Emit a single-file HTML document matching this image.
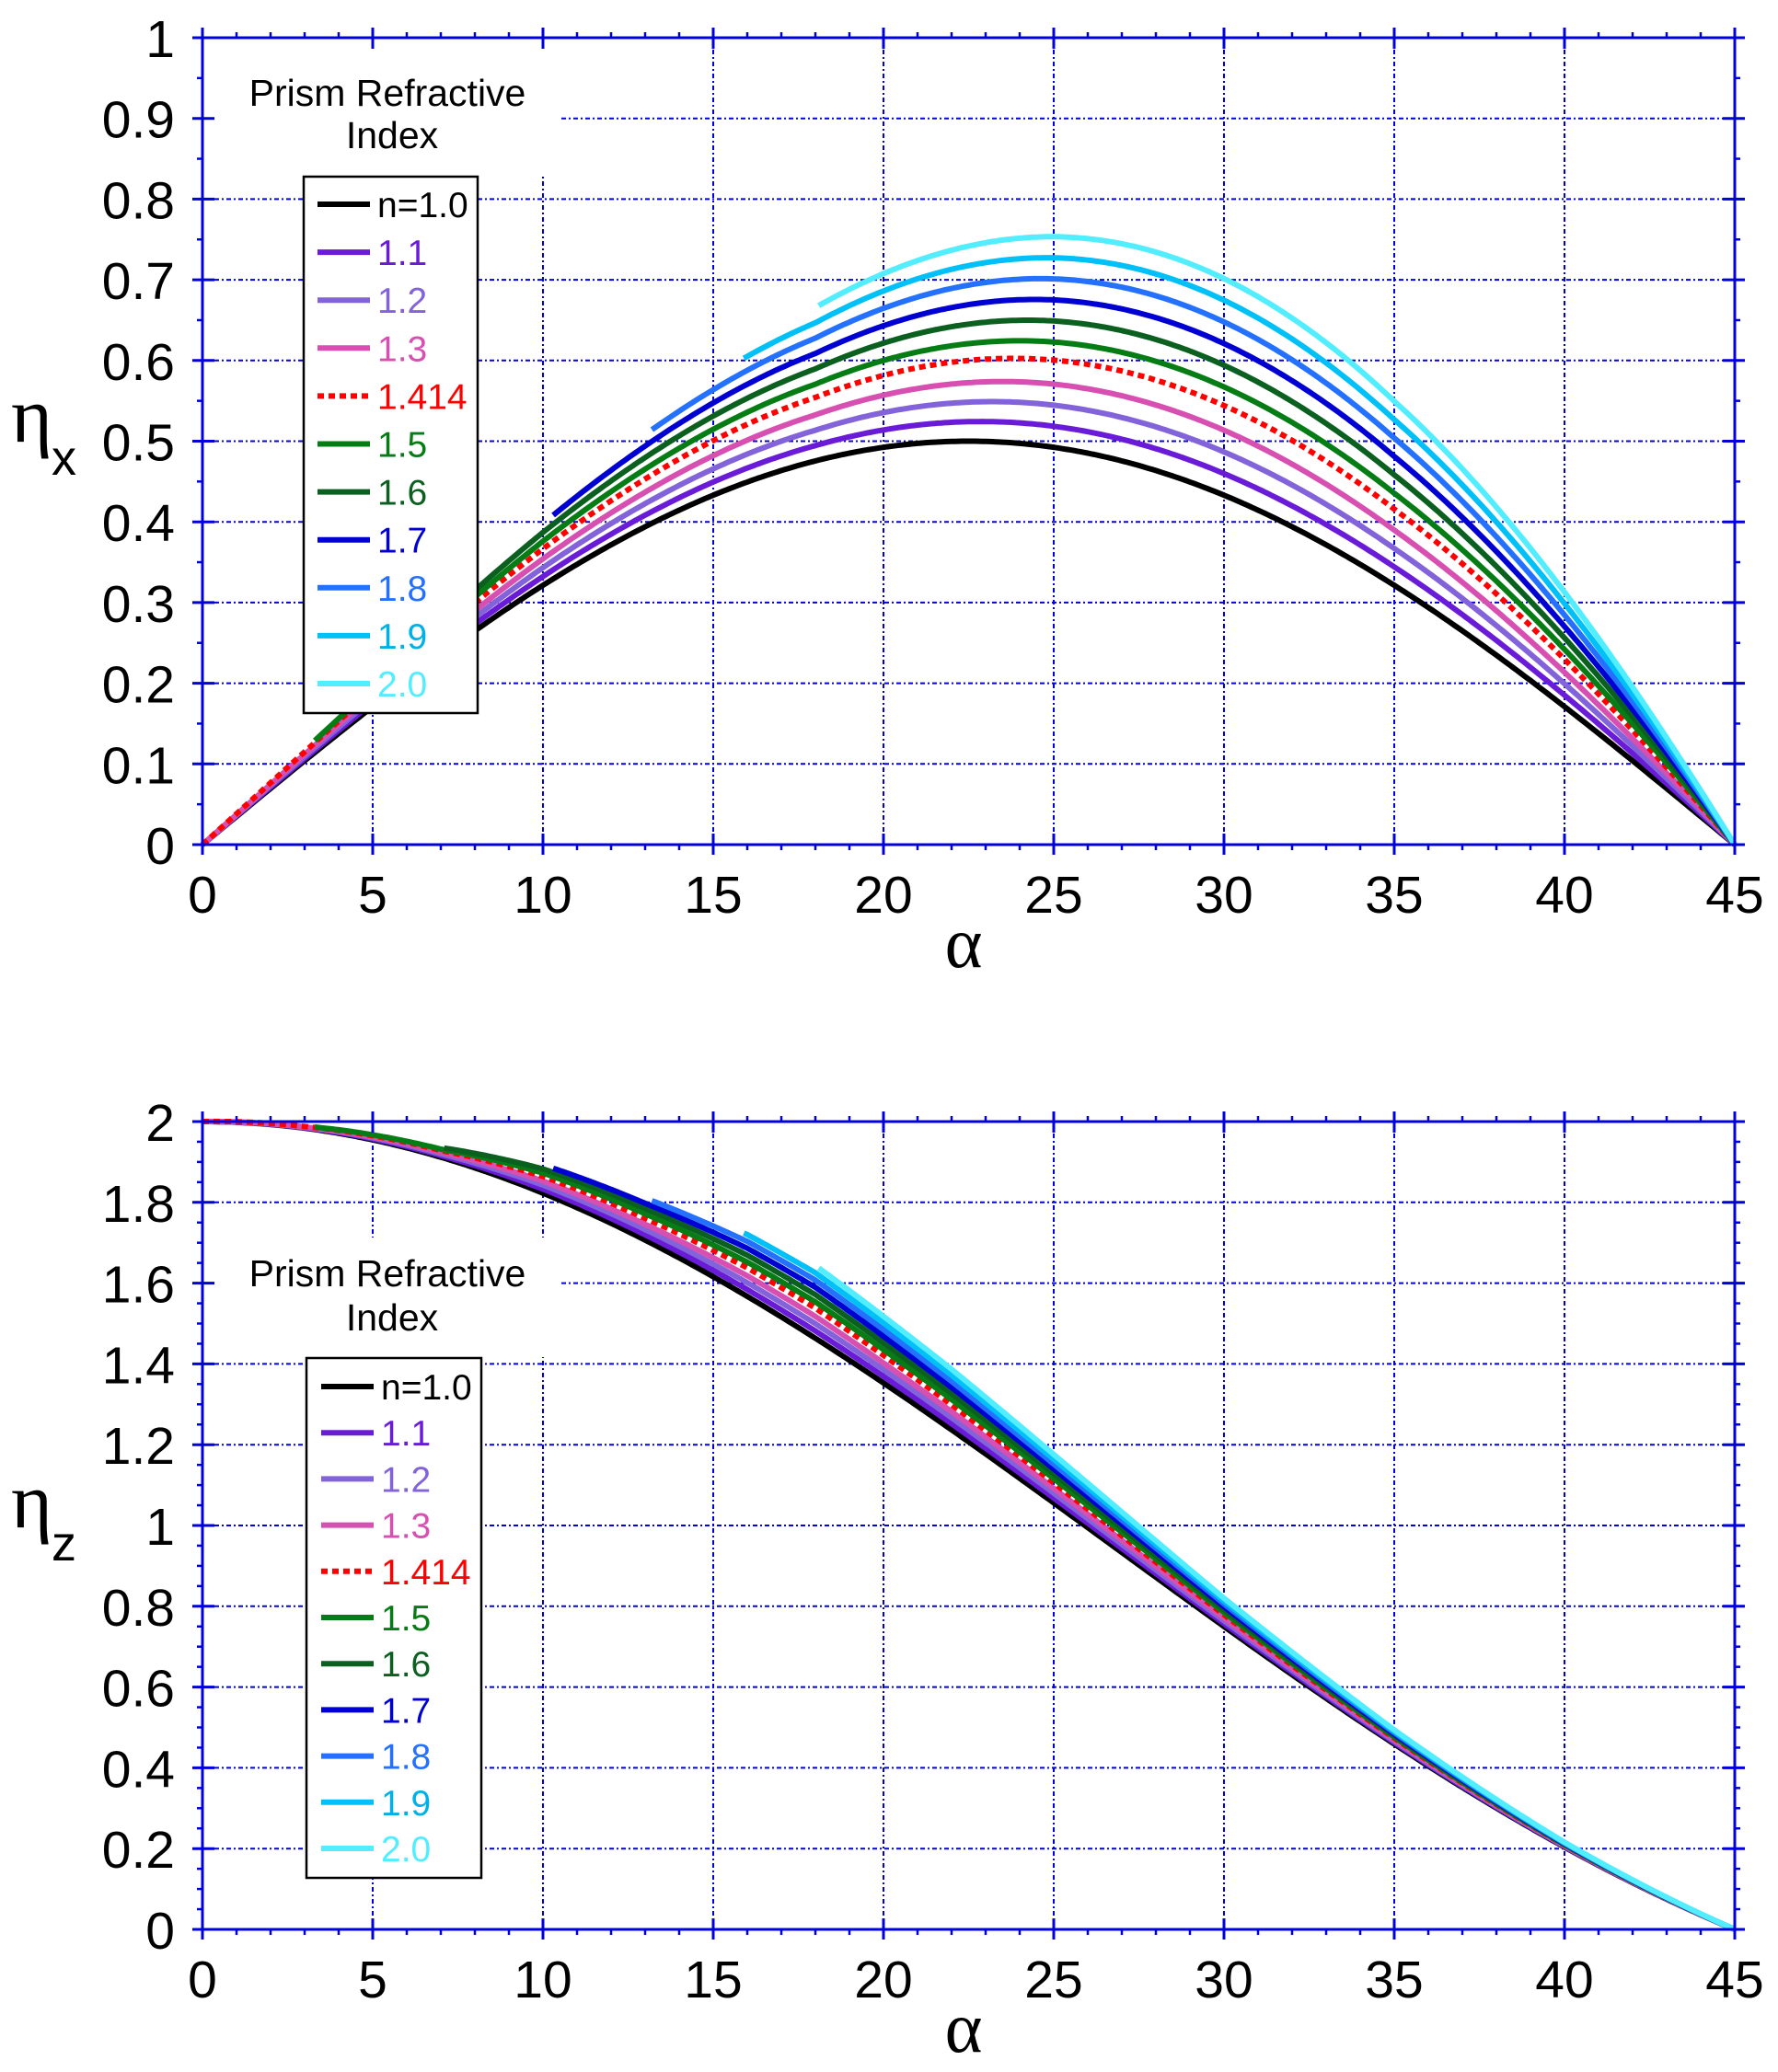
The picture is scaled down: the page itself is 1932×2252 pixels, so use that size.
<!DOCTYPE html>
<html><head><meta charset="utf-8">
<style>
html,body{margin:0;padding:0;background:#fff;}
svg{display:block;}
text{font-family:"Liberation Sans",Arial,sans-serif;}
.serif{font-family:"Liberation Serif","DejaVu Serif",serif;}
</style></head>
<body>
<svg id="s" width="1932" height="2252" viewBox="0 0 1932 2252" xmlns="http://www.w3.org/2000/svg">
<rect width="1932" height="2252" fill="#fff"/>
<g id="g"></g>
</svg>
<script>
const NS="http://www.w3.org/2000/svg";
const G=document.getElementById('g');
function el(t,a,txt){const e=document.createElementNS(NS,t);for(const k in a)e.setAttribute(k,a[k]);if(txt!==undefined)e.textContent=txt;G.appendChild(e);return e;}
const X0=220,X1=1885;
const sx=a=>X0+(X1-X0)*a/45;
const BL="#0000dd";
const series=[
 {n:1.0,c:"#000000",t:"#000000",lab:"n=1.0",st:0},
 {n:1.1,c:"#6a1bd8",t:"#6a1bd8",lab:"1.1",st:0},
 {n:1.2,c:"#8263da",t:"#8263da",lab:"1.2",st:0},
 {n:1.3,c:"#d84fb2",t:"#d84fb2",lab:"1.3",st:0},
 {n:1.414,c:"#ff0000",t:"#ff0000",lab:"1.414",st:0,dash:true},
 {n:1.5,c:"#057d14",t:"#057d14",lab:"1.5",st:3.3},
 {n:1.6,c:"#0b6020",t:"#0b6020",lab:"1.6",st:7.1},
 {n:1.7,c:"#0000d2",t:"#0000d2",lab:"1.7",st:10.3},
 {n:1.8,c:"#2470ff",t:"#2470ff",lab:"1.8",st:13.2},
 {n:1.9,c:"#00c0f8",t:"#00b0e8",lab:"1.9",st:15.9},
 {n:2.0,c:"#52eeff",t:"#52eeff",lab:"2.0",st:18.1}
];
function interp(tab,a){for(let i=1;i<tab.length;i++){if(a<=tab[i][0]){const [x0,y0]=tab[i-1],[x1,y1]=tab[i];return y0+(y1-y0)*(a-x0)/(x1-x0);}}return tab[tab.length-1][1];}
const C=[[0,0.22],[10,0.34],[18,0.40],[25,0.53],[30,0.62],[35,0.71],[40,0.83],[45,0.95]];
const D=[[0,0],[3,0.01],[7,0.04],[10,0.10],[13,0.13],[16,0.17],[18,0.18],[22,0.15],[25,0.12],[30,0.07],[35,0.035],[40,0.012],[45,0]];
const r=Math.PI/180;
function ex(a,n){return 0.5*Math.sin(4*a*r)*(1+(n-1)*interp(C,a));}
function ez(a,n){const c=Math.cos(2*a*r);return c*(1+c)+(n-1)*interp(D,a);}

function plot(Y0,Y1,ymax,step,minor,fn,ylabs,title,tY,leg,ylab){
 const sy=v=>Y1-(Y1-Y0)*v/ymax;
 for(let a=5;a<45;a+=5) el('line',{x1:sx(a),y1:Y0,x2:sx(a),y2:Y1,stroke:BL,'stroke-width':2,'stroke-dasharray':'5 3 2 3'});
 for(let v=step;v<ymax-1e-9;v+=step) el('line',{x1:X0,y1:sy(v),x2:X1,y2:sy(v),stroke:BL,'stroke-width':2,'stroke-dasharray':'5 3 2 3'});
 el('rect',{x:233,y:tY[0],width:374,height:tY[1]-tY[0],fill:'#fff'});
 for(const s of series){
  let d='';
  for(let a=s.st;a<=45.0001;a+=0.1){const v=fn(a,s.n);d+=(d?'L':'M')+sx(a).toFixed(1)+','+sy(v).toFixed(1);}
  const at={d:d,fill:'none',stroke:s.c,'stroke-width':6,'stroke-linejoin':'round'};
  if(s.dash){at['stroke-dasharray']='7 5';}
  el('path',at);
 }
 el('rect',{x:X0,y:Y0,width:X1-X0,height:Y1-Y0,fill:'none',stroke:BL,'stroke-width':3});
 for(let a=0;a<=45;a++){
  const x=sx(a);
  if(a%5==0){el('line',{x1:x,y1:Y1-12,x2:x,y2:Y1+11,stroke:BL,'stroke-width':3});el('line',{x1:x,y1:Y0+12,x2:x,y2:Y0-11,stroke:BL,'stroke-width':3});
   el('text',{x:x,y:Y1+74,'font-size':57,'text-anchor':'middle'},String(a));}
  else{el('line',{x1:x,y1:Y1,x2:x,y2:Y1+6,stroke:BL,'stroke-width':2.5});el('line',{x1:x,y1:Y0,x2:x,y2:Y0-6,stroke:BL,'stroke-width':2.5});}
 }
 const nm=Math.round(ymax/minor);
 for(let i=0;i<=nm;i++){
  const v=i*minor,y=sy(v);
  const major=Math.abs(v/step-Math.round(v/step))<1e-6;
  if(major){el('line',{x1:X0-11,y1:y,x2:X0+13,y2:y,stroke:BL,'stroke-width':3});el('line',{x1:X1+11,y1:y,x2:X1-13,y2:y,stroke:BL,'stroke-width':3});
   el('text',{x:190,y:y+21,'font-size':57,'text-anchor':'end'},ylabs(v));}
  else{el('line',{x1:X0-6,y1:y,x2:X0,y2:y,stroke:BL,'stroke-width':2.5});el('line',{x1:X1,y1:y,x2:X1+6,y2:y,stroke:BL,'stroke-width':2.5});}
 }
 el('text',{x:421,y:title[0],'font-size':41,'text-anchor':'middle'},'Prism Refractive');
 el('text',{x:426,y:title[1],'font-size':41,'text-anchor':'middle'},'Index');
 el('rect',{x:leg.x,y:leg.y0,width:leg.w,height:leg.y1-leg.y0,fill:'#fff',stroke:'#000','stroke-width':2.5});
 series.forEach((s,i)=>{
  const y=leg.r0+i*leg.dr;
  const at={x1:leg.lx,y1:y,x2:leg.lx+57,y2:y,stroke:s.c,'stroke-width':6};
  if(s.dash)at['stroke-dasharray']='7 5';
  el('line',at);
  el('text',{x:leg.tx,y:y+14,'font-size':39,fill:s.t},s.lab);
 });
 el('text',{x:12,y:ylab.y,'font-size':86,class:'serif'},'η');
 el('text',{x:56,y:ylab.y+36,'font-size':54},ylab.sub);
 el('text',{x:1047,y:Y1+133,'font-size':78,'text-anchor':'middle',class:'serif'},'α');
}
plot(41,918,1,0.1,0.05,ex,v=>v<1e-9?'0':(Math.abs(v-1)<1e-9?'1':v.toFixed(1)),[115,161],[44,190],
 {x:330,y0:192,y1:775,w:189,r0:222,dr:52.1,lx:345,tx:410},{y:480,sub:'x'});
plot(1219,2097,2,0.2,0.05,ez,v=>{const s=(Math.round(v*10)/10).toString();return s;},[1398,1446],[1345,1475],
 {x:333,y0:1476,y1:2041,w:190,r0:1507,dr:50.2,lx:349,tx:414},{y:1660,sub:'z'});
</script>
</body></html>
